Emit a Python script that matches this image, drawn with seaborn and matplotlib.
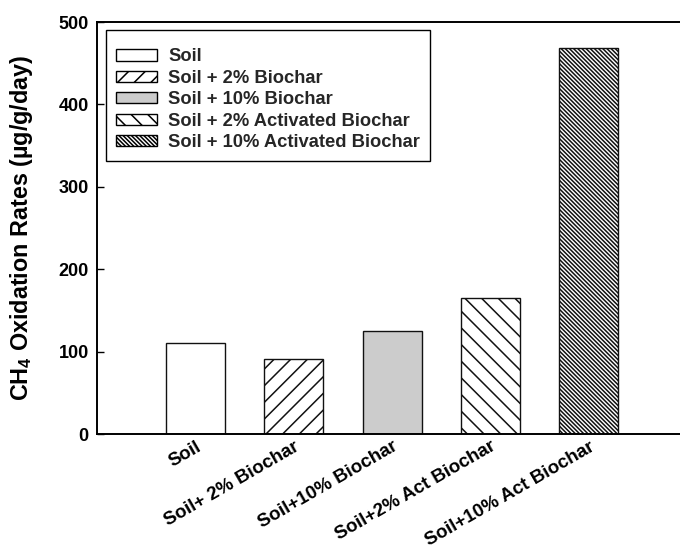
import matplotlib
matplotlib.use("Agg")
import matplotlib.pyplot as plt
import seaborn as sns
import pandas as pd
from matplotlib.patches import Patch

# Treatments, legend names and measured CH4 oxidation rates (µg/g/day)
categories = ["Soil", "Soil+ 2% Biochar", "Soil+10% Biochar",
              "Soil+2% Act Biochar", "Soil+10% Act Biochar"]
legend_labels = ["Soil", "Soil + 2% Biochar", "Soil + 10% Biochar",
                 "Soil + 2% Activated Biochar", "Soil + 10% Activated Biochar"]
oxidation_rates = [110, 91, 125, 165, 468]
y_ticks = [0, 100, 200, 300, 400, 500]

# Per-bar fill and hatch styling
fill_colors = ["white", "white", "#cccccc", "white", "white"]
hatches = ["", "//", "", "\\\\", "\\" * 8]

sns.set_theme(style="white")
plt.rcParams["font.family"] = ["Liberation Sans", "DejaVu Sans"]
plt.rcParams["font.weight"] = "bold"
plt.rcParams["mathtext.fontset"] = "custom"
plt.rcParams["mathtext.rm"] = "Liberation Sans:bold"
plt.rcParams["mathtext.bf"] = "Liberation Sans:bold"
plt.rcParams["mathtext.it"] = "Liberation Sans:bold"
plt.rcParams["hatch.linewidth"] = 1.1
plt.rcParams["hatch.color"] = "black"

fig = plt.figure(figsize=(6.8, 5.5), dpi=100)
ax = fig.add_axes([0.1426, 0.2109, 0.8574, 0.749])

df = pd.DataFrame({"sample": categories, "rate": oxidation_rates})
sns.barplot(data=df, x="sample", y="rate", order=categories, width=0.6,
            color="white", saturation=1, edgecolor="black", linewidth=1.0,
            ax=ax)

for patch, fc, h in zip(ax.patches, fill_colors, hatches):
    patch.set_facecolor(fc)
    patch.set_hatch(h)
    patch.set_edgecolor("#111111")

ax.set_xlim(-1.005, 4.93)
ax.set_ylim(0, 500)
ax.set_yticks(y_ticks)
ax.set_yticklabels([str(t) for t in y_ticks], fontsize=13, fontweight="bold")
ax.set_xticks(range(len(categories)))
ax.set_xticklabels(categories, rotation=30, ha="right", va="top",
                   rotation_mode="anchor", fontsize=13.5, fontweight="bold")
ax.tick_params(axis="y", direction="in", length=5, width=1, pad=6,
               colors="black", left=True)
ax.tick_params(axis="x", length=0, pad=3, colors="black")

ax.set_xlabel("")
ax.set_ylabel(r"CH$_{4}$ Oxidation Rates (µg/g/day)", fontsize=16.8,
              fontweight="bold", color="black")
ax.yaxis.set_label_coords(-0.106, 0.5)

for side in ["left", "bottom", "top"]:
    ax.spines[side].set_visible(True)
    ax.spines[side].set_color("black")
    ax.spines[side].set_linewidth(1.4)
ax.spines["right"].set_visible(False)

handles = [Patch(facecolor=fc, edgecolor="black", hatch=h, linewidth=1.0)
           for fc, h in zip(fill_colors, hatches)]
leg = ax.legend(handles, legend_labels, loc="upper left",
                bbox_to_anchor=(106 / 680, 1 - 30 / 550),
                bbox_transform=fig.transFigure, borderaxespad=0,
                frameon=True, fancybox=False, framealpha=1,
                edgecolor="black", prop={"weight": "bold", "size": 13.2},
                title=" ", title_fontsize=2,
                handlelength=2.25, handleheight=0.55, handletextpad=0.6,
                labelspacing=0.24, borderpad=0.55)
leg.get_frame().set_linewidth(1.0)

fig.savefig("out.png", dpi=100)
